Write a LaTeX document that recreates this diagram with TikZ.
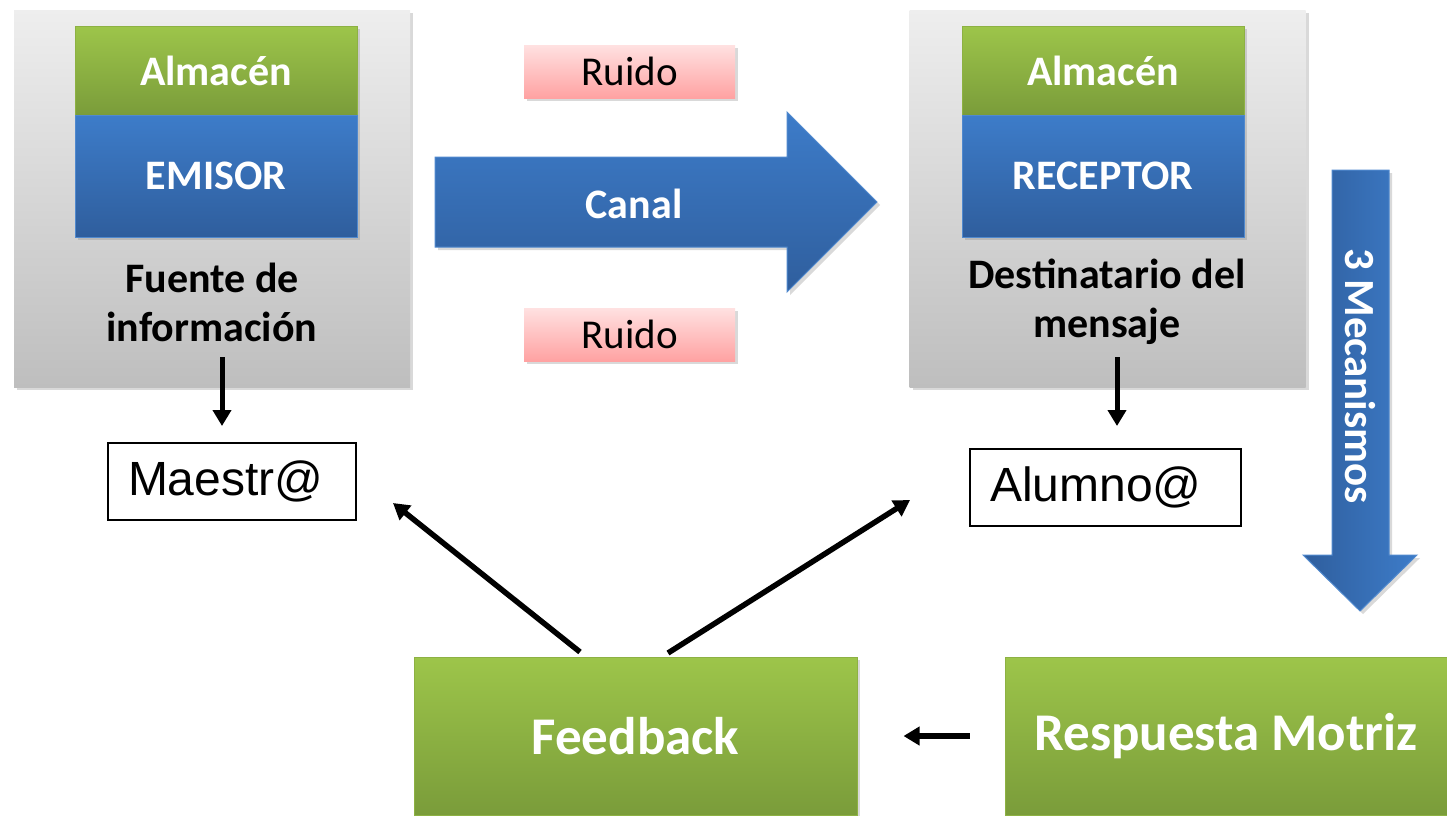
\documentclass[tikz,border=0pt]{standalone}
\usepackage{fontspec}
\setmainfont{Carlito}
\newfontfamily\arialfont{Liberation Sans}
\usetikzlibrary{arrows.meta,shadows}
\definecolor{verdeA}{HTML}{9DC54A}
\definecolor{verdeB}{HTML}{7A9C3A}
\definecolor{azulA}{HTML}{3D7CC9}
\definecolor{azulB}{HTML}{2F5E9D}
\definecolor{grisA}{HTML}{EEEEEE}
\definecolor{grisB}{HTML}{BEBEBE}
\definecolor{rosaA}{HTML}{FFE1E1}
\definecolor{rosaB}{HTML}{FFA2A2}
\begin{document}
\begin{tikzpicture}[x=1pt,y=-1pt,
    sombra/.style={drop shadow={opacity=0.3,shadow xshift=3pt,shadow yshift=-3pt}},
    panel/.style={sombra,top color=grisA,bottom color=grisB,minimum width=396,minimum height=377},
    verde/.style={sombra,top color=verdeA,bottom color=verdeB,draw=verdeA!90!black,line width=1pt,
      text=white,font=\fontsize{42}{50}\selectfont\bfseries},
    azul/.style={sombra,top color=azulA,bottom color=azulB,draw=azulA!90!white,line width=1pt,
      text=white,font=\fontsize{42}{50}\selectfont\bfseries},
    ruido/.style={sombra,top color=rosaA,bottom color=rosaB,minimum width=211,minimum height=53,
      font=\fontsize{41}{49}\selectfont},
    etiqueta/.style={align=center,font=\fontsize{42}{49}\selectfont\bfseries},
    persona/.style={draw,line width=1.2pt,text width=#1,align=left,inner xsep=20,minimum height=77,
      font=\arialfont\fontsize{48}{56}\selectfont},
    flecha/.style={line width=5.5pt,-{Triangle[length=16pt,width=18pt]}}]
    \useasboundingbox (0,0) rectangle (1447,815);
    \node[panel] (panelE) at (212,198.5) {};
    \node[verde,minimum width=282,minimum height=89] (almE) at (216,70.5) {Almacén};
    \node[azul,minimum width=282,minimum height=122] (emisor) at (216,176) {EMISOR};
    \node[etiqueta] (fuente) at (212,302) {Fuente de\\información};
    \node[panel] (panelR) at (1107.5,198.5) {};
    \node[verde,minimum width=282,minimum height=89] (almR) at (1103,70.5) {Almacén};
    \node[azul,minimum width=282,minimum height=122] (receptor) at (1103,176) {RECEPTOR};
    \node[etiqueta] (destino) at (1107,302) {Destinatario del\\mensaje};
    \node[ruido] (ruido1) at (629.5,71.5) {Ruido};
    \node[ruido] (ruido2) at (629.5,334.5) {Ruido};
    \shade[sombra,top color=azulA,bottom color=azulB,draw=azulA!90!white,line width=1pt]
      (435,157) -- (787,157) -- (787,112) -- (877,202) -- (787,292) -- (787,247) -- (435,247) -- cycle;
    \node[text=white,font=\fontsize{42}{50}\selectfont\bfseries] (canal) at (634,204) {Canal};
    \shade[sombra,left color=azulB,right color=azulA,draw=azulA!90!white,line width=1pt]
      (1332,170) -- (1389,170) -- (1389,555) -- (1417,555) -- (1360,611) -- (1303,555) -- (1332,555) -- cycle;
    \node[rotate=-90,text=white,font=\fontsize{43}{50}\selectfont\bfseries] (mecanismos) at (1360,376) {3 Mecanismos};
    \node[persona=208] (maestro) at (232,481.5) {Maestr@};
    \node[persona=231] (alumno) at (1105.5,487.5) {Alumno@};
    \node[verde,minimum width=443,minimum height=158,font=\fontsize{53}{60}\selectfont\bfseries] (feedback) at (635.5,736) {Feedback};
    \node[verde,minimum width=442,minimum height=158,font=\fontsize{53}{60}\selectfont\bfseries] (respuesta) at (1226,736) {Respuesta Motriz};
    \coordinate (e1) at (222,357);
    \coordinate (e2) at (222,426);
    \coordinate (r1) at (1117,357);
    \coordinate (r2) at (1117,426);
    \coordinate (f1) at (580,652);
    \coordinate (f2) at (668,653);
    \coordinate (m1) at (393,503);
    \coordinate (a1) at (910,500);
    \draw[flecha,line width=5pt] (e1) -- (e2);
    \draw[flecha,line width=5pt] (r1) -- (r2);
    \draw[flecha] (f1) -- (m1);
    \draw[flecha] (f2) -- (a1);
    \draw[flecha] ([xshift=-35]respuesta.west) -- ([xshift=46]feedback.east);
\end{tikzpicture}
\end{document}
